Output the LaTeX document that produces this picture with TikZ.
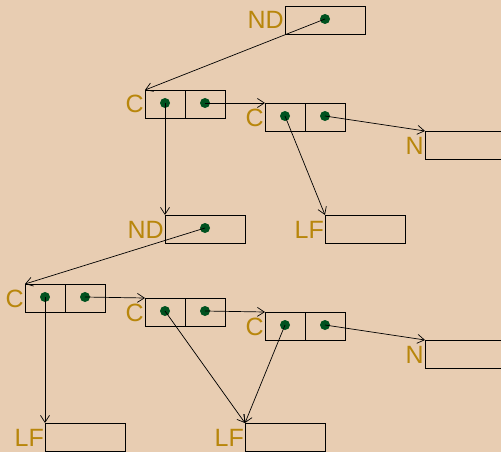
\documentclass[tikz,border=0pt]{standalone}
\usepackage{fontspec}
\setmainfont{Liberation Sans}
\usetikzlibrary{arrows.meta}
\definecolor{bg}{RGB}{232,205,178}
\definecolor{lab}{RGB}{184,134,11}
\definecolor{dotc}{RGB}{0,82,32}
\begin{document}
\begin{tikzpicture}[x=1pt,y=-1pt,
  cell/.style={draw=black, line width=0.8pt, minimum width=40pt, minimum height=28pt, inner sep=0pt, outer sep=0pt},
  wide/.style={cell, minimum width=80pt},
  lbl/.style={text=lab, font=\fontsize{25}{25}\selectfont, inner sep=0pt, anchor=base east},
  dotn/.style={circle, fill=dotc, minimum size=10pt, inner sep=0pt},
  link/.style={-{Straight Barb[length=7pt,width=9pt]}, line width=0.7pt}]
\fill[bg] (0,0) rectangle (501,452);
\useasboundingbox (0,0) rectangle (501,452);
% boxes
\node[wide] (nd0) at (325,20) {};
\node[lbl] (lnd0) at (284,29) {ND};
\node[cell] (c1a) at (165,104) {}; \node[cell] (c1b) at (205,104) {};
\node[lbl] (lc1) at (144,113) {C};
\node[cell] (c2a) at (285,117) {}; \node[cell] (c2b) at (325,117) {};
\node[lbl] (lc2) at (264,126) {C};
\node[wide] (n1) at (465,145) {};
\node[lbl] (ln1) at (424,154) {N};
\node[wide] (nd2) at (205,229) {};
\node[lbl] (lnd2) at (164,238) {ND};
\node[wide] (lf1) at (365,229) {};
\node[lbl] (llf1) at (324,238) {LF};
\node[cell] (c3a) at (45,298) {}; \node[cell] (c3b) at (85,298) {};
\node[lbl] (lc3) at (24,307) {C};
\node[cell] (c4a) at (165,312) {}; \node[cell] (c4b) at (205,312) {};
\node[lbl] (lc4) at (144,321) {C};
\node[cell] (c5a) at (285,326) {}; \node[cell] (c5b) at (325,326) {};
\node[lbl] (lc5) at (264,335) {C};
\node[wide] (n2) at (465,354) {};
\node[lbl] (ln2) at (424,363) {N};
\node[wide] (lf2) at (85,437) {};
\node[lbl] (llf2) at (44,446) {LF};
\node[wide] (lf3) at (285,437) {};
\node[lbl] (llf3) at (244,446) {LF};
% dots
\node[dotn] (d0) at (325,19) {};
\node[dotn] (d1a) at (165,103) {}; \node[dotn] (d1b) at (205,103) {};
\node[dotn] (d2a) at (285,116) {}; \node[dotn] (d2b) at (325,116) {};
\node[dotn] (dnd2) at (205,228) {};
\node[dotn] (d3a) at (45,297) {}; \node[dotn] (d3b) at (85,297) {};
\node[dotn] (d4a) at (165,311) {}; \node[dotn] (d4b) at (205,311) {};
\node[dotn] (d5a) at (285,325) {}; \node[dotn] (d5b) at (325,325) {};
% links
\draw[link] (d0.center) -- (c1a.north west);
\draw[link] (d1a.center) -- (nd2.north west);
\draw[link] (d1b.center) -- (c2a.north west);
\draw[link] (d2a.center) -- (lf1.north west);
\draw[link] (d2b.center) -- (n1.north west);
\draw[link] (dnd2.center) -- (c3a.north west);
\draw[link] (d3a.center) -- (lf2.north west);
\draw[link] (d3b.center) -- (c4a.north west);
\draw[link] (d4a.center) -- (lf3.north west);
\draw[link] (d4b.center) -- (c5a.north west);
\draw[link] (d5a.center) -- (lf3.north west);
\draw[link] (d5b.center) -- (n2.north west);
\end{tikzpicture}
\end{document}
